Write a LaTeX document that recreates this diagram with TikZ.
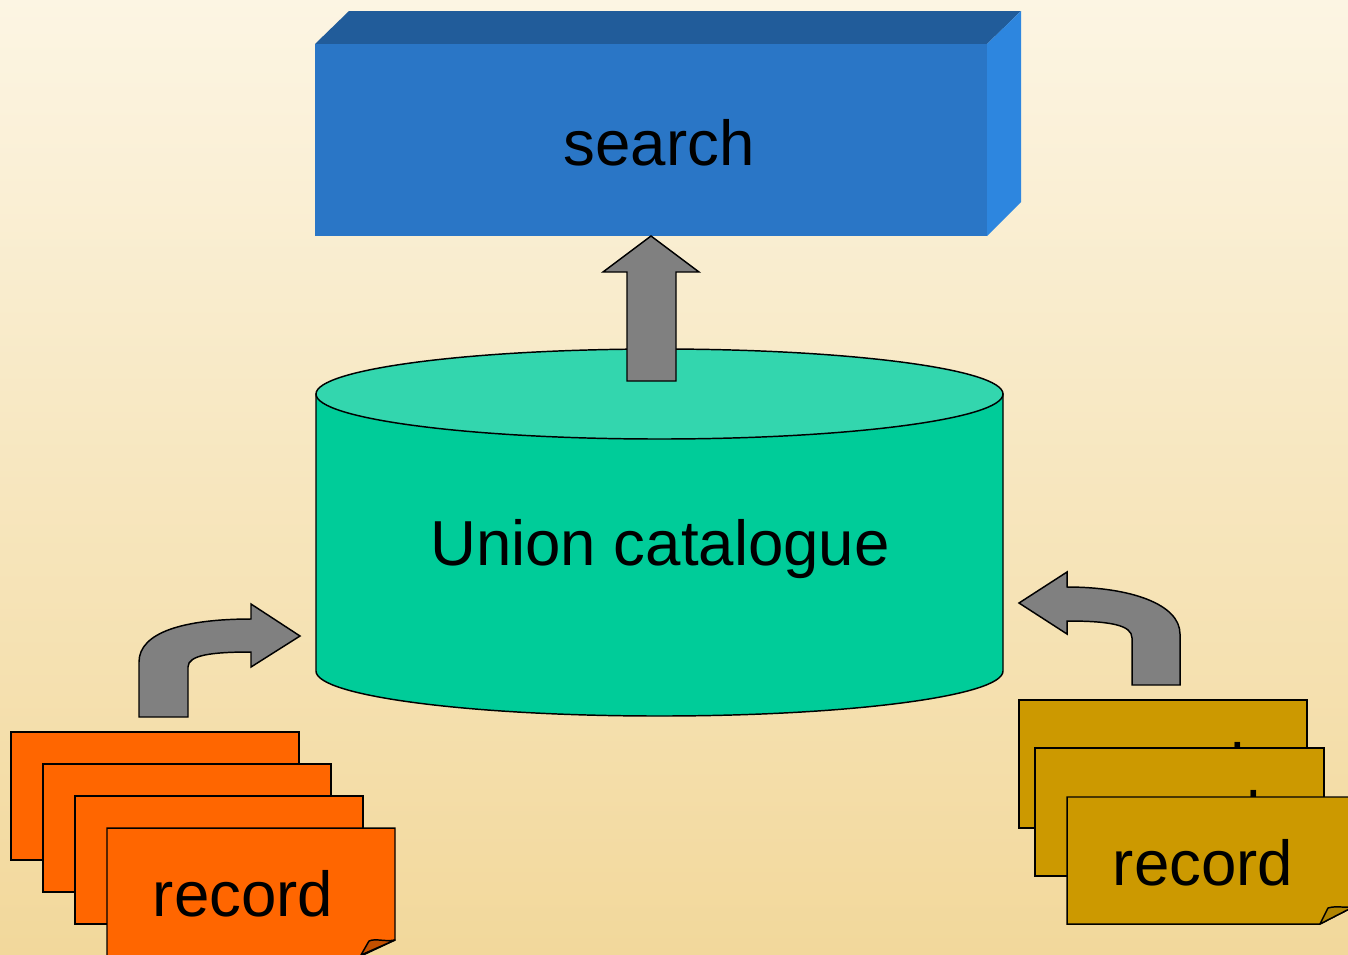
\documentclass[tikz,border=0pt]{standalone}
\usepackage{fontspec}
\setmainfont{Liberation Sans}
\definecolor{bgtop}{HTML}{FCF5E3}
\definecolor{bgbottom}{HTML}{F2D89B}
\definecolor{searchfront}{HTML}{2A76C6}
\definecolor{searchtop}{HTML}{215C9A}
\definecolor{searchside}{HTML}{2D86DF}
\definecolor{cyltop}{HTML}{33D6AE}
\definecolor{cylbody}{HTML}{00CC99}
\definecolor{arrowgray}{HTML}{808080}
\definecolor{recorange}{HTML}{FF6600}
\definecolor{recorangefold}{HTML}{C45000}
\definecolor{recgold}{HTML}{CC9900}
\definecolor{recgoldfold}{HTML}{B08400}

\tikzset{
  bigtext/.style={font=\fontsize{47.7}{57}\selectfont, text=black, inner sep=0pt, anchor=base},
  grayarrow/.style={fill=arrowgray, draw=black, line width=1.1pt, line join=miter},
  outline/.style={draw=black, line width=1.1pt},
}

\begin{document}
\begin{tikzpicture}[x=0.75pt, y=-0.75pt]
  \useasboundingbox (0,0) rectangle (1348,954);
  \clip (0,0) rectangle (1348,954);
  \shade[top color=bgtop, bottom color=bgbottom] (0,0) rectangle (1348,954);

  % search box
  \fill[searchtop] (315,44) -- (349,11) -- (1021,11) -- (987,44) -- cycle;
  \fill[searchside] (987,44) -- (1021,11) -- (1021,202) -- (987,236) -- cycle;
  \fill[searchfront] (315,44) rectangle (987,236);
  \node[bigtext] (search) at (659,165) {search};

  % union catalogue cylinder
  \path[fill=cylbody, outline] (316,394) -- (316,671)
    .. controls (316,696) and (470,716) .. (659.5,716)
    .. controls (849,716) and (1003,696) .. (1003,671) -- (1003,394) -- cycle;
  \path[fill=cyltop, outline] (659.5,394) ellipse [x radius=343.5, y radius=45];
  \node[bigtext] (union) at (660,565) {Union catalogue};

  % arrows
  \path[grayarrow] (627,381) -- (627,272) -- (603,272) -- (651,236)
    -- (699,272) -- (676,272) -- (676,381) -- cycle;
  \path[grayarrow] (139,717) -- (139,662)
    .. controls (139,632) and (185,619) .. (251,619)
    -- (251,604) -- (300,636) -- (251,667) -- (251,652)
    .. controls (212,652) and (188,655) .. (188,667) -- (188,717) -- cycle;
  \path[grayarrow] (1180,685) -- (1180,634)
    .. controls (1180,604) and (1130,587) .. (1067,587)
    -- (1067,572) -- (1019,603) -- (1067,634) -- (1067,621)
    .. controls (1110,621) and (1132,625) .. (1132,638) -- (1132,685) -- cycle;

  % left records
  \foreach \i in {0,1,2}
    \path[fill=recorange, outline] (11+32*\i,732+32*\i) rectangle ++(288,128);
  \path[fill=recorange, outline] (107,828) -- (395,828) -- (395,940)
    -- (361,956) -- (107,956) -- cycle;
  \path[fill=recorangefold, outline, line join=round] (395,940)
    .. controls (384,942) and (376,938) .. (369,941) -- (361,955) -- cycle;
  \node[bigtext] (recleft) at (243,916) {record};

  % right records
  \path[fill=recgold, outline] (1019,700) rectangle (1307,828);
  \node[bigtext] (recright1) at (1155,788) {record};
  \path[fill=recgold, outline] (1035,748) rectangle (1324,876);
  \node[bigtext] (recright2) at (1171,836) {record};
  \path[fill=recgold, outline] (1067,797) -- (1355,797) -- (1355,906)
    -- (1320,924) -- (1067,924) -- cycle;
  \path[fill=recgoldfold, outline, line join=round] (1320,924)
    -- (1328,908) .. controls (1338,905) and (1346,909) .. (1355,906) -- cycle;
  \node[bigtext] (recright3) at (1203,885) {record};
\end{tikzpicture}
\end{document}
